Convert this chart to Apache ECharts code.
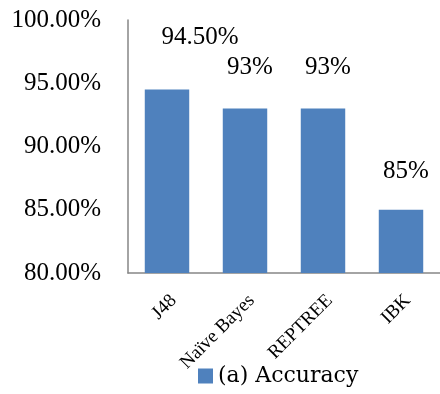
<!DOCTYPE html>
<html>
<head>
<meta charset="utf-8">
<script src="https://cdn.jsdelivr.net/npm/echarts@6/dist/echarts.min.js"></script>
<style>
  html, body { margin: 0; padding: 0; background: #ffffff; }
  #chart { width: 440px; height: 394px; }
</style>
</head>
<body>
<div id="chart"></div>
<script>
// Classifier accuracy (percent)
var classifiers = ['J48', 'Naïve Bayes', 'REPTREE', 'IBK'];
var accuracy = [94.5, 93, 93, 85];
var yTicks = { min: 80, max: 100, step: 5 };

// Hand-placed data label nudges [dx, dy] for each bar
var labelNudges = [[33, -40], [5, -29], [5, -29], [5, -26]];

var SERIF = "'Liberation Serif', 'Times New Roman', Times, serif";

function pct(v) {
  return (Number.isInteger(v) ? String(v) : v.toFixed(2)) + '%';
}

var chart = echarts.init(document.getElementById('chart'));
chart.setOption({
  animation: false,
  grid: { left: 128, top: 20, bottom: 121, width: 316, containLabel: false },
  legend: {
    bottom: 7,
    left: 198,
    padding: 0,
    itemWidth: 15,
    itemHeight: 15,
    icon: 'rect',
    itemGap: 6,
    textStyle: { fontFamily: "'DejaVu Serif', serif", fontSize: 22, color: '#000' },
    data: ['(a) Accuracy']
  },
  xAxis: {
    type: 'category',
    data: classifiers,
    axisLine: { lineStyle: { color: '#868686', width: 1.5 } },
    axisTick: { show: false },
    axisLabel: {
      rotate: 45,
      interval: 0,
      margin: 18,
      verticalAlign: 'top',
      fontFamily: SERIF,
      fontSize: 19,
      color: '#000'
    }
  },
  yAxis: {
    type: 'value',
    min: yTicks.min,
    max: yTicks.max,
    interval: yTicks.step,
    axisLine: { show: true, lineStyle: { color: '#868686', width: 1.5 } },
    axisTick: { show: false },
    splitLine: { show: false },
    axisLabel: {
      margin: 27,
      fontFamily: SERIF,
      fontSize: 25,
      color: '#000',
      formatter: function (v) { return v.toFixed(2) + '%'; }
    }
  },
  series: [{
    name: '(a) Accuracy',
    type: 'bar',
    barWidth: '57%',
    itemStyle: { color: '#4f81bd' },
    data: accuracy.map(function (v, i) {
      return {
        value: v,
        label: {
          show: true,
          position: 'top',
          distance: 0,
          offset: labelNudges[i],
          fontFamily: SERIF,
          fontSize: 25,
          color: '#000',
          formatter: function (p) { return pct(p.value); }
        }
      };
    })
  }]
});
</script>
</body>
</html>
